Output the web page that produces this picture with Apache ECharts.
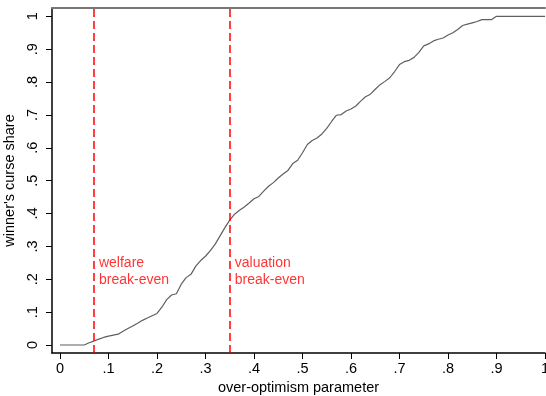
<!DOCTYPE html>
<html>
<head>
<meta charset="utf-8">
<script src="https://cdn.jsdelivr.net/npm/echarts@6/dist/echarts.min.js"></script>
<style>
  html, body { margin: 0; padding: 0; background: #fff; }
  #chart { width: 546px; height: 396px; }
</style>
</head>
<body>
<div id="chart"></div>
<script>
// Over-optimism parameter grid and the share of auctions showing a winner's curse
const optimism = [
  0.00, 0.01, 0.02, 0.03, 0.04, 0.05, 0.06, 0.07, 0.08, 0.09,
  0.10, 0.11, 0.12, 0.13, 0.14, 0.15, 0.16, 0.17, 0.18, 0.19,
  0.20, 0.21, 0.22, 0.23, 0.24, 0.25, 0.26, 0.27, 0.28, 0.29,
  0.30, 0.31, 0.32, 0.33, 0.34, 0.35, 0.36, 0.37, 0.38, 0.39,
  0.40, 0.41, 0.42, 0.43, 0.44, 0.45, 0.46, 0.47, 0.48, 0.49,
  0.50, 0.51, 0.52, 0.53, 0.54, 0.55, 0.56, 0.57, 0.58, 0.59,
  0.60, 0.61, 0.62, 0.63, 0.64, 0.65, 0.66, 0.67, 0.68, 0.69,
  0.70, 0.71, 0.72, 0.73, 0.74, 0.75, 0.76, 0.77, 0.78, 0.79,
  0.80, 0.81, 0.82, 0.83, 0.84, 0.85, 0.86, 0.87, 0.88, 0.89,
  0.90, 0.91, 0.92, 0.93, 0.94, 0.95, 0.96, 0.97, 0.98, 0.99, 1.00
];
const curseShare = [
  0.000, 0.000, 0.000, 0.000, 0.000, 0.000, 0.007, 0.012, 0.018, 0.023,
  0.027, 0.030, 0.033, 0.042, 0.050, 0.058, 0.066, 0.075, 0.082, 0.089,
  0.096, 0.115, 0.138, 0.152, 0.156, 0.185, 0.205, 0.215, 0.240, 0.257,
  0.270, 0.287, 0.307, 0.332, 0.357, 0.380, 0.398, 0.410, 0.420, 0.432,
  0.445, 0.452, 0.468, 0.483, 0.494, 0.508, 0.520, 0.531, 0.552, 0.562,
  0.585, 0.610, 0.622, 0.630, 0.642, 0.659, 0.680, 0.699, 0.701, 0.712,
  0.718, 0.727, 0.742, 0.755, 0.763, 0.778, 0.792, 0.802, 0.813, 0.832,
  0.853, 0.862, 0.866, 0.875, 0.890, 0.910, 0.916, 0.925, 0.930, 0.934,
  0.943, 0.950, 0.960, 0.972, 0.976, 0.980, 0.984, 0.990, 0.990, 0.990,
  1.000, 1.000, 1.000, 1.000, 1.000, 1.000, 1.000, 1.000, 1.000, 1.000, 1.000
];
// Break-even thresholds drawn as vertical reference lines
const breakEvenX = [0.07, 0.35];
const breakEvenLabels = ['welfare\nbreak-even', 'valuation\nbreak-even'];
const breakEvenLabelY = 0.223;
// Tick values for both axes
const xTicks = [0, 0.1, 0.2, 0.3, 0.4, 0.5, 0.6, 0.7, 0.8, 0.9, 1];
const yTicks = [0, 0.1, 0.2, 0.3, 0.4, 0.5, 0.6, 0.7, 0.8, 0.9, 1];

const fmt = v => {
  const r = Math.round(v * 10) / 10;
  if (r === 0) return '0';
  if (r === 1) return '1';
  return r.toFixed(1).replace(/^0/, '');
};

const FONT = 'Liberation Sans, Arial, sans-serif';
const chart = echarts.init(document.getElementById('chart'), null, { renderer: 'canvas' });

chart.setOption({
  animation: false,
  backgroundColor: '#ffffff',
  grid: { left: 52, right: 1, top: 8, bottom: 43, containLabel: false, outerBoundsMode: 'none' },
  xAxis: [
    {
      type: 'value',
      min: -0.0165,
      max: 1,
      name: 'over-optimism parameter',
      nameLocation: 'middle',
      nameGap: 25,
      nameTextStyle: { color: '#000', fontSize: 14.5, fontFamily: FONT },
      axisLine: { show: true, onZero: false, lineStyle: { color: '#000', width: 1.5 } },
      axisTick: { show: true, length: 6, customValues: xTicks, lineStyle: { color: '#000', width: 1 } },
      axisLabel: { customValues: xTicks, formatter: fmt, color: '#000', fontSize: 14.5, fontFamily: FONT, margin: 8 },
      splitLine: { show: false }
    },
    {
      type: 'value',
      position: 'top',
      min: -0.0165,
      max: 1,
      axisLine: { show: true, onZero: false, lineStyle: { color: '#777', width: 2 } },
      axisTick: { show: false },
      axisLabel: { show: false },
      splitLine: { show: false }
    }
  ],
  yAxis: {
    type: 'value',
    min: -0.0243,
    max: 1.0252,
    name: "winner's curse share",
    nameLocation: 'middle',
    nameGap: 28,
    nameRotate: 90,
    nameTextStyle: { color: '#000', fontSize: 14.5, fontFamily: FONT },
    axisLine: { show: true, onZero: false, lineStyle: { color: '#000', width: 1.5 } },
    axisTick: { show: true, length: 6, customValues: yTicks, lineStyle: { color: '#000', width: 1 } },
    axisLabel: { customValues: yTicks, formatter: fmt, rotate: 90, color: '#000', fontSize: 14.5, fontFamily: FONT, margin: 12 },
    splitLine: { show: false }
  },
  series: [
    {
      type: 'line',
      data: optimism.map((x, i) => [x, curseShare[i]]),
      showSymbol: false,
      symbol: 'none',
      lineStyle: { color: '#5f5f5f', width: 1.2 },
      markLine: {
        silent: true,
        symbol: 'none',
        label: { show: false },
        lineStyle: { color: '#ff0000', type: [8, 4], width: 1.5 },
        data: breakEvenX.map(x => ({ xAxis: x }))
      }
    },
    {
      type: 'scatter',
      symbolSize: 0,
      silent: true,
      data: breakEvenX.map((x, i) => ({ value: [x, breakEvenLabelY], name: breakEvenLabels[i] })),
      label: {
        show: true,
        position: 'right',
        distance: 5,
        formatter: p => p.name,
        color: '#ff0000',
        fontSize: 14,
        lineHeight: 17,
        fontFamily: FONT,
        align: 'left'
      }
    }
  ]
});
</script>
</body>
</html>
